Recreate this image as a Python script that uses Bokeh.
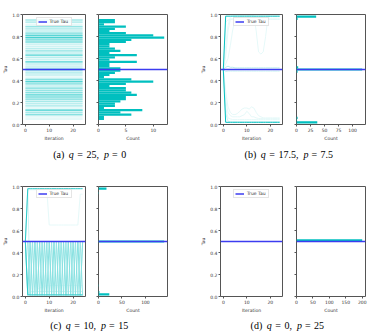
import numpy as np
from bokeh.plotting import figure
from bokeh.layouts import row, column
from bokeh.models import (Range1d, FixedTicker, PrintfTickFormatter, ColumnDataSource,
                          Span, Legend, LegendItem)
from bokeh.core.properties import value
from bokeh.embed import file_html
from bokeh.resources import INLINE

ITERATIONS = list(range(25))
TRUE_TAU = 0.5
PANEL_TAGS = ["(a)", "(b)", "(c)", "(d)"]
Q_VALUES = ["25", "17.5", "10", "0"]
P_VALUES = ["0", "7.5", "15", "25"]

# (a) q = 25, p = 0: every chain keeps its starting tau.
# Chains per 0.02-wide tau bin, from 0.04 upwards.
A_BIN_START = 0.04
A_COUNTS = [1, 1, 6, 4, 8, 1, 3, 3, 4, 5, 5, 7, 6, 5, 5, 2, 5, 10, 6, 1, 2, 3, 4,
            4, 2, 2, 7, 2, 3, 7, 2, 4, 3, 2, 2, 5, 6, 12, 10, 5, 2, 3, 5, 1, 3, 3]

# (b) q = 17.5, p = 7.5: tau traces (one row per group of identical chains)
B_COUNTS = [117, 33, 35, 2, 1, 1, 1, 1, 3, 2, 1, 1, 1]
B_TRACES = [
    [0.50, 0.50, 0.50, 0.50, 0.50, 0.50, 0.50, 0.50, 0.50, 0.50, 0.50, 0.50, 0.50,
     0.50, 0.50, 0.50, 0.50, 0.50, 0.50, 0.50, 0.50, 0.50, 0.50, 0.50, 0.50],
    [0.50, 0.985, 0.985, 0.985, 0.985, 0.985, 0.985, 0.985, 0.985, 0.985, 0.985, 0.985, 0.985,
     0.985, 0.985, 0.985, 0.985, 0.985, 0.985, 0.985, 0.985, 0.985, 0.985, 0.985, 0.985],
    [0.50, 0.02, 0.02, 0.02, 0.02, 0.02, 0.02, 0.02, 0.02, 0.02, 0.02, 0.02, 0.02,
     0.02, 0.02, 0.02, 0.02, 0.02, 0.02, 0.02, 0.02, 0.02, 0.02, 0.02, 0.02],
    [0.50, 0.10, 0.03, 0.025, 0.025, 0.025, 0.025, 0.025, 0.025, 0.025, 0.025, 0.025, 0.025,
     0.025, 0.025, 0.025, 0.025, 0.025, 0.025, 0.025, 0.025, 0.025, 0.025, 0.025, 0.025],
    [0.50, 0.93, 0.95, 0.955, 0.955, 0.955, 0.955, 0.955, 0.955, 0.955, 0.955, 0.955, 0.955,
     0.955, 0.955, 0.955, 0.955, 0.955, 0.955, 0.955, 0.955, 0.955, 0.955, 0.955, 0.955],
    [0.50, 0.62, 0.85, 0.96, 0.96, 0.96, 0.96, 0.96, 0.96, 0.96, 0.96, 0.96, 0.96,
     0.96, 0.96, 0.96, 0.96, 0.96, 0.96, 0.96, 0.96, 0.96, 0.96, 0.96, 0.96],
    [0.50, 0.72, 0.90, 0.98, 0.99, 0.99, 0.99, 0.99, 0.99, 0.99, 0.99, 0.99, 0.99,
     0.99, 0.85, 0.66, 0.64, 0.66, 0.80, 0.97, 0.98, 0.98, 0.98, 0.98, 0.98],
    [0.50, 0.55, 0.60, 0.72, 0.86, 0.95, 0.97, 0.98, 0.98, 0.98, 0.98, 0.98, 0.98,
     0.98, 0.98, 0.98, 0.98, 0.98, 0.98, 0.98, 0.98, 0.98, 0.98, 0.98, 0.98],
    [0.50, 0.52, 0.53, 0.52, 0.52, 0.515, 0.515, 0.515, 0.515, 0.515, 0.515, 0.515, 0.515,
     0.515, 0.515, 0.515, 0.515, 0.515, 0.515, 0.515, 0.515, 0.515, 0.515, 0.515, 0.515],
    [0.50, 0.48, 0.485, 0.485, 0.485, 0.485, 0.485, 0.485, 0.485, 0.485, 0.485, 0.485, 0.485,
     0.485, 0.485, 0.485, 0.485, 0.485, 0.485, 0.485, 0.485, 0.485, 0.485, 0.485, 0.485],
    [0.50, 0.30, 0.16, 0.11, 0.09, 0.09, 0.10, 0.12, 0.14, 0.15, 0.15, 0.14, 0.16,
     0.15, 0.11, 0.08, 0.07, 0.06, 0.06, 0.06, 0.06, 0.06, 0.06, 0.06, 0.06],
    [0.50, 0.22, 0.11, 0.08, 0.07, 0.07, 0.07, 0.07, 0.08, 0.09, 0.12, 0.10, 0.07,
     0.07, 0.06, 0.055, 0.055, 0.055, 0.055, 0.055, 0.055, 0.055, 0.055, 0.055, 0.055],
    [0.50, 0.15, 0.06, 0.05, 0.045, 0.045, 0.045, 0.045, 0.045, 0.045, 0.045, 0.045, 0.045,
     0.045, 0.045, 0.045, 0.045, 0.045, 0.045, 0.045, 0.045, 0.045, 0.045, 0.045, 0.045],
]

# (c) q = 10, p = 15
C_COUNTS = [131, 6, 5, 3, 17, 16, 2, 1, 1, 2]
C_TRACES = [
    [0.50, 0.50, 0.50, 0.50, 0.50, 0.50, 0.50, 0.50, 0.50, 0.50, 0.50, 0.50, 0.50,
     0.50, 0.50, 0.50, 0.50, 0.50, 0.50, 0.50, 0.50, 0.50, 0.50, 0.50, 0.50],
    [0.50, 0.01, 0.50, 0.01, 0.50, 0.01, 0.50, 0.01, 0.50, 0.01, 0.50, 0.01, 0.50,
     0.01, 0.50, 0.01, 0.50, 0.01, 0.50, 0.01, 0.50, 0.01, 0.50, 0.01, 0.50],
    [0.50, 0.50, 0.01, 0.50, 0.01, 0.50, 0.01, 0.50, 0.01, 0.50, 0.01, 0.50, 0.01,
     0.50, 0.01, 0.50, 0.01, 0.50, 0.01, 0.50, 0.01, 0.50, 0.01, 0.50, 0.01],
    [0.50, 0.50, 0.01, 0.50, 0.50, 0.01, 0.50, 0.50, 0.01, 0.50, 0.50, 0.01, 0.50,
     0.50, 0.01, 0.50, 0.50, 0.01, 0.50, 0.50, 0.01, 0.50, 0.50, 0.01, 0.50],
    [0.50, 0.98, 0.98, 0.98, 0.98, 0.98, 0.98, 0.98, 0.98, 0.98, 0.98, 0.98, 0.98,
     0.98, 0.98, 0.98, 0.98, 0.98, 0.98, 0.98, 0.98, 0.98, 0.98, 0.98, 0.98],
    [0.50, 0.015, 0.015, 0.015, 0.015, 0.015, 0.015, 0.015, 0.015, 0.015, 0.015, 0.015, 0.015,
     0.015, 0.015, 0.015, 0.015, 0.015, 0.015, 0.015, 0.015, 0.015, 0.015, 0.015, 0.015],
    [0.50, 0.98, 0.01, 0.01, 0.01, 0.01, 0.01, 0.01, 0.01, 0.01, 0.01, 0.01, 0.01,
     0.01, 0.01, 0.01, 0.01, 0.01, 0.01, 0.01, 0.01, 0.01, 0.01, 0.01, 0.01],
    [0.50, 0.97, 0.97, 0.97, 0.97, 0.97, 0.97, 0.97, 0.97, 0.97, 0.65, 0.65, 0.65,
     0.65, 0.65, 0.65, 0.65, 0.65, 0.65, 0.65, 0.65, 0.65, 0.65, 0.93, 0.93],
    [0.50, 0.02, 0.02, 0.03, 0.05, 0.06, 0.08, 0.08, 0.09, 0.10, 0.10, 0.10, 0.10,
     0.10, 0.10, 0.10, 0.10, 0.10, 0.10, 0.10, 0.10, 0.10, 0.10, 0.10, 0.10],
    [0.50, 0.03, 0.04, 0.045, 0.045, 0.045, 0.045, 0.045, 0.045, 0.045, 0.045, 0.045, 0.045,
     0.045, 0.045, 0.045, 0.045, 0.045, 0.045, 0.045, 0.045, 0.045, 0.045, 0.045, 0.045],
]

# (d) q = 0, p = 25: all chains stay at tau = 0.5
D_COUNTS = [200]
D_TRACES = [
    [0.50, 0.50, 0.50, 0.50, 0.50, 0.50, 0.50, 0.50, 0.50, 0.50, 0.50, 0.50, 0.50,
     0.50, 0.50, 0.50, 0.50, 0.50, 0.50, 0.50, 0.50, 0.50, 0.50, 0.50, 0.50],
]

BIN_WIDTH = 0.02
CYAN = (0, 191, 191)
CYAN_HEX = "#00bfbf"
TAU_BLUE = "#3c3cf0"
FRAME = "#555555"
TXT = "#333333"
FONT = "DejaVu Sans"
TICK_FS = "4.5px"

FIG_H = 143
TOP, BOTTOM = 14, 16
X_LO, X_HI = -1.2, 25.2
TAU_TICKS = [0.0, 0.2, 0.4, 0.6, 0.8, 1.0]


def trace_color(n, per_line=0.1):
    # opaque colour of n stacked translucent cyan lines on white
    a = 1.0 - (1.0 - per_line) ** n
    r, g, b = (round(255 * (1 - a) + c * a) for c in CYAN)
    return f"#{r:02x}{g:02x}{b:02x}"


def style(p):
    p.grid.visible = False
    p.outline_line_color = FRAME
    p.outline_line_width = 1
    p.background_fill_color = "white"
    p.border_fill_color = "white"
    for ax in p.axis:
        ax.axis_line_color = None
        ax.major_tick_line_color = FRAME
        ax.major_tick_out = 2
        ax.major_tick_in = 0
        ax.minor_tick_line_color = None
        ax.major_label_text_font = FONT
        ax.major_label_text_font_size = TICK_FS
        ax.major_label_text_color = TXT
        ax.major_label_standoff = 1
        ax.axis_label_text_font = FONT
        ax.axis_label_text_font_size = TICK_FS
        ax.axis_label_text_font_style = "normal"
        ax.axis_label_text_color = TXT
        ax.axis_label_standoff = 1


def trace_fig(width, left, right, counts, traces, lw=1.0):
    p = figure(width=width, height=FIG_H, x_range=Range1d(X_LO, X_HI), y_range=Range1d(0, 1),
               output_backend="svg", toolbar_location=None,
               min_border_left=left, min_border_right=right,
               min_border_top=TOP, min_border_bottom=BOTTOM)
    # lighter groups first so heavier bundles sit on top
    order = sorted(range(len(traces)), key=lambda k: counts[k])
    src = ColumnDataSource(dict(xs=[ITERATIONS for _ in order],
                                ys=[traces[k] for k in order],
                                c=[trace_color(counts[k]) for k in order]))
    p.multi_line("xs", "ys", source=src, line_color="c", line_width=lw)
    r = p.line([X_LO, X_HI], [TRUE_TAU, TRUE_TAU], line_color=TAU_BLUE, line_width=1.5)
    legend = Legend(items=[LegendItem(label="True Tau", renderers=[r])], location="top_center")
    legend.label_text_font = FONT
    legend.label_text_font_size = "4.5px"
    legend.label_text_color = TXT
    legend.label_height = 5
    legend.label_standoff = 3
    legend.glyph_height = 5
    legend.glyph_width = 9
    legend.padding = 1
    legend.spacing = 0
    legend.margin = 3
    legend.border_line_color = "#cccccc"
    legend.border_line_width = 0.8
    legend.background_fill_alpha = 0.8
    p.add_layout(legend)
    style(p)
    p.xaxis.ticker = FixedTicker(ticks=[0, 10, 20])
    p.xaxis.axis_label = "Iteration"
    p.yaxis.ticker = FixedTicker(ticks=TAU_TICKS)
    p.yaxis.formatter = PrintfTickFormatter(format="%.1f")
    p.yaxis.axis_label = "Tau"
    return p


def hist_fig(width, left, right, lows, counts, xticks):
    lows = np.asarray(lows, dtype=float)
    counts = np.asarray(counts, dtype=float)
    keep = counts > 0
    xmax = counts.max() * 1.05
    p = figure(width=width, height=FIG_H, x_range=Range1d(0, xmax), y_range=Range1d(0, 1),
               output_backend="svg", toolbar_location=None,
               min_border_left=left, min_border_right=right,
               min_border_top=TOP, min_border_bottom=BOTTOM)
    p.quad(left=0, right=counts[keep], bottom=lows[keep], top=lows[keep] + BIN_WIDTH,
           fill_color=CYAN_HEX, line_color=None)
    p.add_layout(Span(location=TRUE_TAU, dimension="width", line_color=TAU_BLUE,
                      line_width=1.5))
    style(p)
    p.xaxis.ticker = FixedTicker(ticks=xticks)
    p.xaxis.axis_label = "Count"
    # shared tau axis: ticks only, no labels
    p.yaxis.ticker = FixedTicker(ticks=TAU_TICKS)
    p.yaxis.major_label_text_font_size = "1px"
    p.yaxis.major_label_text_color = None
    p.yaxis.major_label_standoff = 0
    return p


def hist_from_traces(counts, traces, start, nbins):
    edges = start + BIN_WIDTH * np.arange(nbins + 1)
    finals = [t[-1] for t in traces]
    h, _ = np.histogram(finals, bins=edges, weights=counts)
    return edges[:-1], h


# horizontal levels for (a): bin centres, flat over all iterations
a_lows = A_BIN_START + BIN_WIDTH * np.arange(len(A_COUNTS))
a_traces = [[lo + BIN_WIDTH / 2] * len(ITERATIONS) for lo, n in zip(a_lows, A_COUNTS) if n > 0]
a_tcounts = [n for n in A_COUNTS if n > 0]

b_lows, b_hist = hist_from_traces(B_COUNTS, B_TRACES, 0.01, 49)
c_lows, c_hist = hist_from_traces(C_COUNTS, C_TRACES, 0.01, 49)
d_lows, d_hist = hist_from_traces(D_COUNTS, D_TRACES, 0.0, 50)

fa1 = trace_fig(90, 16, 5, a_tcounts, a_traces, lw=1.8)
fa2 = hist_fig(108, 8, 31, a_lows, A_COUNTS, [0, 5, 10])
fb1 = trace_fig(91, 16, 7, B_COUNTS, B_TRACES)
fb2 = hist_fig(84, 7, 8, b_lows, b_hist, [0, 25, 50, 75, 100])
fc1 = trace_fig(90, 16, 5, C_COUNTS, C_TRACES)
fc2 = hist_fig(108, 8, 31, c_lows, c_hist, [0, 50, 100])
fd1 = trace_fig(91, 16, 7, D_COUNTS, D_TRACES)
fd2 = hist_fig(84, 7, 8, d_lows, d_hist, [0, 50, 100, 150, 200])

# captions, set in serif with italic variable names
EM = {"(": 0.333, ")": 0.333, "a": 0.444, "b": 0.5, "c": 0.444, "d": 0.5, ",": 0.25,
      ".": 0.25, "=": 0.564, "q": 0.5, "p": 0.5}
CAP_FS = 10


def text_width(s):
    return sum(EM.get(ch, 0.5) for ch in s) * CAP_FS


def caption_fig(height, entries):
    p = figure(width=373, height=height, x_range=Range1d(0, 373), y_range=Range1d(height, 0),
               output_backend="svg", toolbar_location=None, x_axis_type=None, y_axis_type=None,
               min_border=0)
    p.grid.visible = False
    p.outline_line_color = None
    for i, cx, cy in entries:
        tokens = [(PANEL_TAGS[i], "normal", 4.5), ("q", "italic", 3.5), ("=", "normal", 3.5),
                  (Q_VALUES[i] + ",", "normal", 5.0), ("p", "italic", 3.0), ("=", "normal", 3.5),
                  (P_VALUES[i], "normal", 0.0)]
        total = sum(text_width(t) + g for t, _, g in tokens)
        x = cx - total / 2
        for style_name in ("normal", "italic"):
            xs, ts = [], []
            xx = x
            for t, st, g in tokens:
                if st == style_name:
                    xs.append(xx)
                    ts.append(t)
                xx += text_width(t) + g
            p.text(x=xs, y=[cy] * len(xs), text=ts, text_font=value("Liberation Serif"),
                   text_font_size=f"{CAP_FS}px", text_font_style=style_name,
                   text_align="left", text_baseline="middle", text_color="black")
    return p


cap1 = caption_fig(29, [(0, 89.2, 11), (1, 288.3, 11)])
cap2 = caption_fig(19, [(2, 88.7, 10), (3, 286.8, 10)])

layout = column(row(fa1, fa2, fb1, fb2), cap1, row(fc1, fc2, fd1, fd2), cap2)

open("out.html", "w").write(file_html(layout, INLINE))
